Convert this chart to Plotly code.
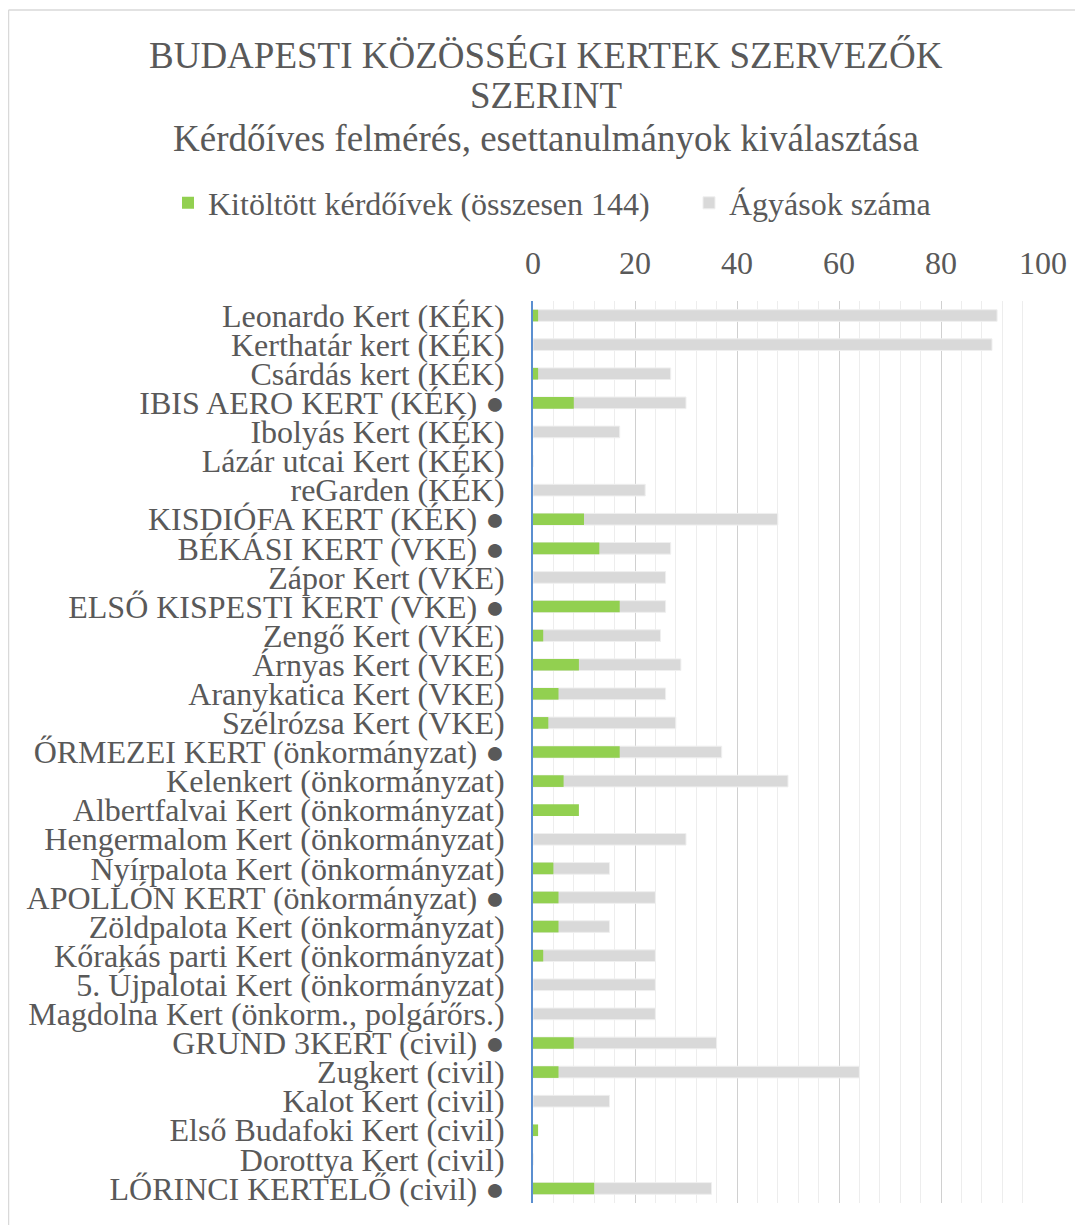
import plotly.graph_objects as go

categories = [
    "Leonardo Kert (KÉK)",
    "Kerthatár kert (KÉK)",
    "Csárdás kert (KÉK)",
    "IBIS AERO KERT (KÉK) ●",
    "Ibolyás Kert (KÉK)",
    "Lázár utcai Kert (KÉK)",
    "reGarden (KÉK)",
    "KISDIÓFA KERT (KÉK) ●",
    "BÉKÁSI KERT (VKE) ●",
    "Zápor Kert (VKE)",
    "ELSŐ KISPESTI KERT (VKE) ●",
    "Zengő Kert (VKE)",
    "Árnyas Kert (VKE)",
    "Aranykatica Kert (VKE)",
    "Szélrózsa Kert (VKE)",
    "ŐRMEZEI KERT (önkormányzat) ●",
    "Kelenkert (önkormányzat)",
    "Albertfalvai Kert (önkormányzat)",
    "Hengermalom Kert (önkormányzat)",
    "Nyírpalota Kert (önkormányzat)",
    "APOLLÓN KERT (önkormányzat) ●",
    "Zöldpalota Kert (önkormányzat)",
    "Kőrakás parti Kert (önkormányzat)",
    "5. Újpalotai Kert (önkormányzat)",
    "Magdolna Kert (önkorm., polgárőrs.)",
    "GRUND 3KERT (civil) ●",
    "Zugkert (civil)",
    "Kalot Kert (civil)",
    "Első Budafoki Kert (civil)",
    "Dorottya Kert (civil)",
    "LŐRINCI KERTELŐ (civil) ●",
]

kerdoivek = [1, 0, 1, 8, 0, 0, 0, 10, 13, 0, 17, 2, 9, 5, 3, 17, 6, 9, 0, 4, 5, 5, 2, 0, 0, 8, 5, 0, 1, 0, 12]
agyasok = [91, 90, 27, 30, 17, 0, 22, 48, 27, 26, 26, 25, 29, 26, 28, 37, 50, 0, 30, 15, 24, 15, 24, 24, 24, 36, 64, 15, 0, 0, 35]

series_names = ["Kitöltött kérdőívek (összesen 144)", "Ágyások száma"]
x_ticks = [0, 20, 40, 60, 80, 100]
title_lines = ["BUDAPESTI KÖZÖSSÉGI KERTEK SZERVEZŐK", "SZERINT",
               "Kérdőíves felmérés, esettanulmányok kiválasztása"]

FONT = "Liberation Serif"
TXT = "#595959"
W, H = 1075, 1217
L, R, T, B = 525, 40, 293, 22
pw, ph = W - L - R, H - T - B

fig = go.Figure()
fig.add_trace(go.Bar(
    y=categories, x=agyasok, orientation="h", name=series_names[1],
    marker=dict(color="#D9D9D9", line=dict(color="#EFEFEF", width=1)),
    width=0.4, legend="legend2",
))
fig.add_trace(go.Bar(
    y=categories, x=kerdoivek, orientation="h", name=series_names[0],
    marker=dict(color="#92D050", line=dict(width=0)),
    width=0.4, legend="legend",
))

leg_common = dict(
    orientation="h", xref="paper", yref="paper", xanchor="left",
    y=(H - B - 195) / ph, yanchor="middle",
    font=dict(family=FONT, size=32, color=TXT),
    itemwidth=30, bgcolor="rgba(0,0,0,0)",
)
fig.update_layout(
    width=W, height=H,
    barmode="overlay",
    paper_bgcolor="white", plot_bgcolor="white",
    margin=dict(l=L, r=R, t=T, b=B, autoexpand=False),
    font=dict(family=FONT, color=TXT, size=31),
    legend=dict(x=(160 - L) / pw, **leg_common),
    legend2=dict(x=(681 - L) / pw, **leg_common),
    showlegend=True,
)
for txt, yc in zip(title_lines, [47, 87, 130]):
    fig.add_annotation(
        text=txt, xref="paper", yref="paper",
        x=(W / 2 - L) / pw, y=(H - B - yc) / ph,
        xanchor="center", yanchor="middle",
        showarrow=False, font=dict(family=FONT, size=37, color=TXT),
    )

fig.update_xaxes(
    side="top", range=[0, 100], tickvals=x_ticks,
    showgrid=True, gridcolor="#D0D0D0", gridwidth=1,
    minor=dict(dtick=4, showgrid=True, gridcolor="#EDEDED", gridwidth=1),
    zeroline=False, showline=False, ticks="",
    ticklabelstandoff=20,
    tickfont=dict(family=FONT, size=32, color=TXT),
)
fig.update_yaxes(
    autorange="reversed", showgrid=False, ticks="",
    tickmode="array", tickvals=categories, ticktext=categories,
    showline=True, linecolor="#5B8FD0", linewidth=2,
    ticklabelstandoff=20,
    tickfont=dict(family=FONT, size=32, color=TXT),
)

# outer chart frame (top and left edges visible)
fx0 = (0.5 - L) / pw
fy_top = (H - B - 2) / ph
fig.add_shape(type="line", xref="paper", yref="paper",
              x0=fx0, x1=(W - L) / pw, y0=fy_top, y1=fy_top,
              line=dict(color="#D9D9D9", width=1.5), layer="below")
fig.add_shape(type="line", xref="paper", yref="paper",
              x0=fx0, x1=fx0, y0=fy_top, y1=-B / ph - 0.01,
              line=dict(color="#D9D9D9", width=1.5), layer="below")

fig.write_html("out.html")
